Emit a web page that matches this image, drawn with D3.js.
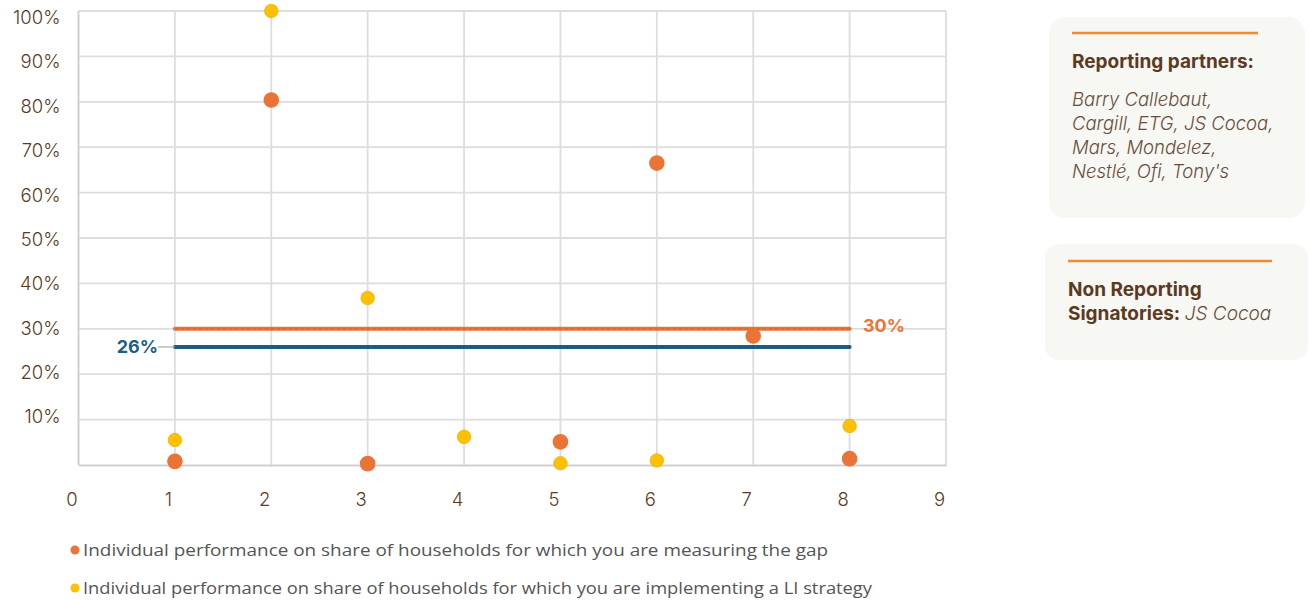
<!DOCTYPE html>
<html>
<head>
<meta charset="utf-8">
<script src="https://cdn.jsdelivr.net/npm/d3@7"></script>
<style>
  html, body { margin: 0; padding: 0; background: #ffffff; }
  svg { display: block; }
</style>
</head>
<body>
<svg id="chart" width="1309" height="601"></svg>
<script>
// Signatory index on the x axis
const partners = [1, 2, 3, 4, 5, 6, 7, 8];
// Share of households for which the gap is being measured (%), null = not reported
const gapShare = [0.8, 80.4, 0.3, null, 5.1, 66.5, 28.4, 1.4];
// Share of households with a living income strategy being implemented (%)
const strategyShare = [5.5, 100, 36.8, 6.2, 0.4, 1.0, null, 8.6];
// Group averages
const avgGap = 30;
const avgStrategy = 26;
const xTicks = [0, 1, 2, 3, 4, 5, 6, 7, 8, 9];
const yTicks = [10, 20, 30, 40, 50, 60, 70, 80, 90, 100];
const legendLabels = [
  "Individual performance on share of households for which you are measuring the gap",
  "Individual performance on share of households for which you are implementing a LI strategy"
];
const partnerNames = ["Barry Callebaut,", "Cargill, ETG, JS Cocoa,", "Mars, Mondelez,", "Nestlé, Ofi, Tony's"];

const ORANGE = "#E97436";
const YELLOW = "#FFC000";
const BLUE = "#1D5E84";
const BROWN = "#5C3A22";
const FONT = "Inter, 'Open Sans', sans-serif";

const svg = d3.select("#chart");
const x = d3.scaleLinear().domain([0, 9]).range([78.5, 946]);
const y = d3.scaleLinear().domain([0, 100]).range([465, 11]);
// Tick labels sit on a slightly tighter vertical spacing than the gridlines
const yLabel = d3.scaleLinear().domain([10, 100]).range([416.5, 17]);

// Grid
const grid = svg.append("g");
grid.selectAll("line.h").data(yTicks).join("line")
  .attr("x1", x(0)).attr("x2", x(9))
  .attr("y1", d => y(d)).attr("y2", d => y(d))
  .attr("stroke", "#dddddd").attr("stroke-width", 1.8);
grid.selectAll("line.v").data(xTicks.slice(1)).join("line")
  .attr("x1", d => x(d)).attr("x2", d => x(d))
  .attr("y1", y(0)).attr("y2", y(100))
  .attr("stroke", "#dddddd").attr("stroke-width", 1.8);

// Axes
const yAxis = d3.axisLeft(yLabel).tickValues(yTicks).tickSize(0).tickPadding(18)
  .tickFormat(d => d + "%");
svg.append("g").attr("transform", `translate(${x(0)},0)`).call(yAxis)
  .call(g => g.select(".domain").remove())
  .call(g => g.selectAll("text").attr("dy", "0.35em").attr("fill", BROWN)
    .style("font-family", FONT).style("font-size", "18.5px").style("font-weight", 300));
svg.append("line").attr("x1", x(0)).attr("x2", x(0)).attr("y1", y(0)).attr("y2", y(100))
  .attr("stroke", "#cfcfcf").attr("stroke-width", 2);

const xAxis = d3.axisBottom(x).tickValues(xTicks).tickSize(0).tickPadding(28);
svg.append("g").attr("transform", `translate(0,${y(0)})`).call(xAxis)
  .call(g => g.select(".domain").attr("stroke", "#cfcfcf").attr("stroke-width", 2))
  .call(g => g.selectAll("text").attr("dx", "-7").attr("fill", BROWN)
    .style("font-family", FONT).style("font-size", "18.5px").style("font-weight", 300));

// Average lines
function avgLine(val, color) {
  const g = svg.append("g");
  g.append("line").attr("x1", x(1)).attr("x2", x(8))
    .attr("y1", y(val)).attr("y2", y(val))
    .attr("stroke", color).attr("stroke-width", 4).attr("stroke-linecap", "round");
  g.append("line").attr("x1", x(1)).attr("x2", x(8))
    .attr("y1", y(val)).attr("y2", y(val))
    .attr("stroke", d3.color(color).darker(0.6)).attr("stroke-width", 1)
    .attr("stroke-dasharray", "3,3").attr("opacity", 0.6);
}
avgLine(avgGap, ORANGE);
avgLine(avgStrategy, BLUE);

// Connector and labels for the averages
svg.append("line").attr("x1", 158).attr("x2", x(1))
  .attr("y1", y(avgStrategy)).attr("y2", y(avgStrategy))
  .attr("stroke", "#aaaaaa").attr("stroke-width", 1.2);
svg.append("text").attr("x", 158).attr("y", y(avgStrategy)).attr("dy", "0.35em")
  .attr("text-anchor", "end").attr("fill", BLUE)
  .style("font-family", FONT).style("font-size", "18px").style("font-weight", 700)
  .text(avgStrategy + "%");
svg.append("text").attr("x", 863).attr("y", y(avgGap) - 3).attr("dy", "0.35em")
  .attr("fill", ORANGE)
  .style("font-family", FONT).style("font-size", "18px").style("font-weight", 700)
  .text(avgGap + "%");

// Points
const gapPts = partners.map((p, i) => ({ p, v: gapShare[i] })).filter(d => d.v != null);
const stratPts = partners.map((p, i) => ({ p, v: strategyShare[i] })).filter(d => d.v != null);
svg.append("g").selectAll("circle").data(gapPts).join("circle")
  .attr("cx", d => x(d.p)).attr("cy", d => y(d.v)).attr("r", 7.8)
  .attr("fill", ORANGE);
svg.append("g").selectAll("circle").data(stratPts).join("circle")
  .attr("cx", d => x(d.p)).attr("cy", d => y(d.v)).attr("r", 6.8)
  .attr("fill", YELLOW).attr("stroke", "#e0a800").attr("stroke-width", 0.6);

// Legend
const legendColors = [ORANGE, YELLOW];
const legendY = [550, 588];
const legendW = [745, 789];
legendLabels.forEach((t, i) => {
  svg.append("circle").attr("cx", 75).attr("cy", legendY[i]).attr("r", 4.5).attr("fill", legendColors[i]);
  svg.append("text").attr("x", 83).attr("y", legendY[i]).attr("dy", "0.35em")
    .attr("fill", "#555555").attr("textLength", legendW[i]).attr("lengthAdjust", "spacingAndGlyphs")
    .style("font-family", "'Open Sans', sans-serif").style("font-size", "16px")
    .text(t);
});

// Side panels
const p1 = svg.append("g");
p1.append("rect").attr("x", 1049).attr("y", 17).attr("width", 256).attr("height", 201)
  .attr("rx", 16).attr("fill", "#f7f7f3");
p1.append("line").attr("x1", 1072).attr("x2", 1258).attr("y1", 33).attr("y2", 33)
  .attr("stroke", "#F08A2A").attr("stroke-width", 2.5);
p1.append("text").attr("x", 1072).attr("y", 68).attr("fill", BROWN)
  .style("font-family", FONT).style("font-size", "19px").style("font-weight", 700)
  .text("Reporting partners:");
partnerNames.forEach((n, i) => {
  p1.append("text").attr("x", 1072).attr("y", 106 + i * 24).attr("fill", "#6a4e3c")
    .style("font-family", FONT).style("font-size", "18.5px").style("font-style", "italic")
    .style("font-weight", 300)
    .text(n);
});

const p2 = svg.append("g");
p2.append("rect").attr("x", 1045).attr("y", 244).attr("width", 263).attr("height", 116)
  .attr("rx", 14).attr("fill", "#f7f7f3");
p2.append("line").attr("x1", 1068).attr("x2", 1272).attr("y1", 261).attr("y2", 261)
  .attr("stroke", "#F08A2A").attr("stroke-width", 2.5);
p2.append("text").attr("x", 1068).attr("y", 296).attr("fill", BROWN)
  .style("font-family", FONT).style("font-size", "19px").style("font-weight", 700)
  .text("Non Reporting");
const t2 = p2.append("text").attr("x", 1068).attr("y", 320).attr("fill", BROWN)
  .style("font-family", FONT).style("font-size", "19px");
t2.append("tspan").style("font-weight", 700).text("Signatories: ");
t2.append("tspan").style("font-style", "italic").style("font-weight", 300).attr("fill", "#6a4e3c").text("JS Cocoa");
</script>
</body>
</html>
